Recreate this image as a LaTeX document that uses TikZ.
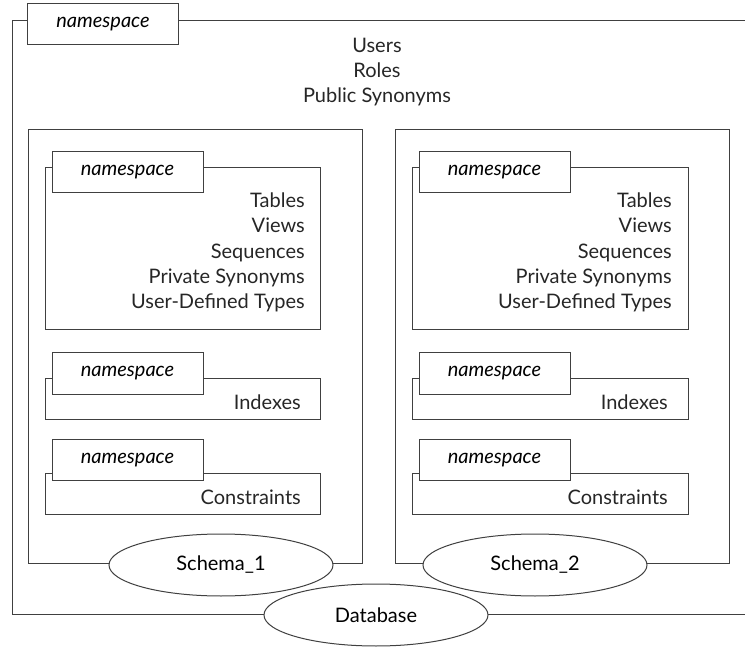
\documentclass[tikz,border=0pt]{standalone}
\usepackage{fontspec}
\setmainfont{Lato}
\usetikzlibrary{shapes.geometric}
\tikzset{frame/.style = {draw=black!75, line width=1pt}}
\tikzset{nstab/.style = {draw=black!75, line width=1pt, fill=white, minimum width=151pt, minimum height=41pt, inner sep=0pt, font=\fontsize{20}{24}\selectfont\itshape}}
\tikzset{owner/.style = {shape=ellipse, draw=black!75, line width=1pt, fill=white, minimum width=224pt, minimum height=62pt, inner sep=0pt, font=\fontsize{20}{24}\selectfont}}
\tikzset{items/.style = {align=right, inner sep=0pt, text=black!85, font=\fontsize{20}{25.3}\selectfont}}

\begin{document}
\begin{tikzpicture}[x=1pt,y=-1pt]
\useasboundingbox (0,0) rectangle (745,647);

% database frame
\draw[frame] (745,21) -- (12,21) -- (12,614) -- (745,614);
\node[nstab] (dbns) at (103,24.5) {namespace};
\node[items, align=center] (dbobj) at (377,72) {Users\\Roles\\Public Synonyms};

% schema 1
\draw[frame] (28,130) rectangle (362,563);
\draw[frame] (45,168) rectangle (320,330);
\node[nstab] (s1ns) at (127.5,172.5) {namespace};
\node[items, anchor=east] (s1obj) at (305,252.5) {Tables\\Views\\Sequences\\Private Synonyms\\User-Defined Types};
\draw[frame] (45,378) rectangle (320,419);
\node[nstab] (s1ixns) at (127.5,373.5) {namespace};
\node[items, anchor=east] (s1ix) at (301,402) {Indexes};
\draw[frame] (45,473) rectangle (320,514);
\node[nstab] (s1cns) at (127.5,460) {namespace};
\node[items, anchor=east] (s1c) at (301,497) {Constraints};
\node[owner] (schema1) at (221,565) {Schema\_1};

% schema 2
\draw[frame] (395,130) rectangle (729,563);
\draw[frame] (412,168) rectangle (688,330);
\node[nstab] (s2ns) at (494.5,172.5) {namespace};
\node[items, anchor=east] (s2obj) at (672,252.5) {Tables\\Views\\Sequences\\Private Synonyms\\User-Defined Types};
\draw[frame] (412,378) rectangle (688,419);
\node[nstab] (s2ixns) at (494.5,373.5) {namespace};
\node[items, anchor=east] (s2ix) at (668,402) {Indexes};
\draw[frame] (412,473) rectangle (688,514);
\node[nstab] (s2cns) at (494.5,460) {namespace};
\node[items, anchor=east] (s2c) at (668,497) {Constraints};
\node[owner] (schema2) at (535,565) {Schema\_2};

\node[owner] (database) at (376,615) {Database};
\end{tikzpicture}
\end{document}
